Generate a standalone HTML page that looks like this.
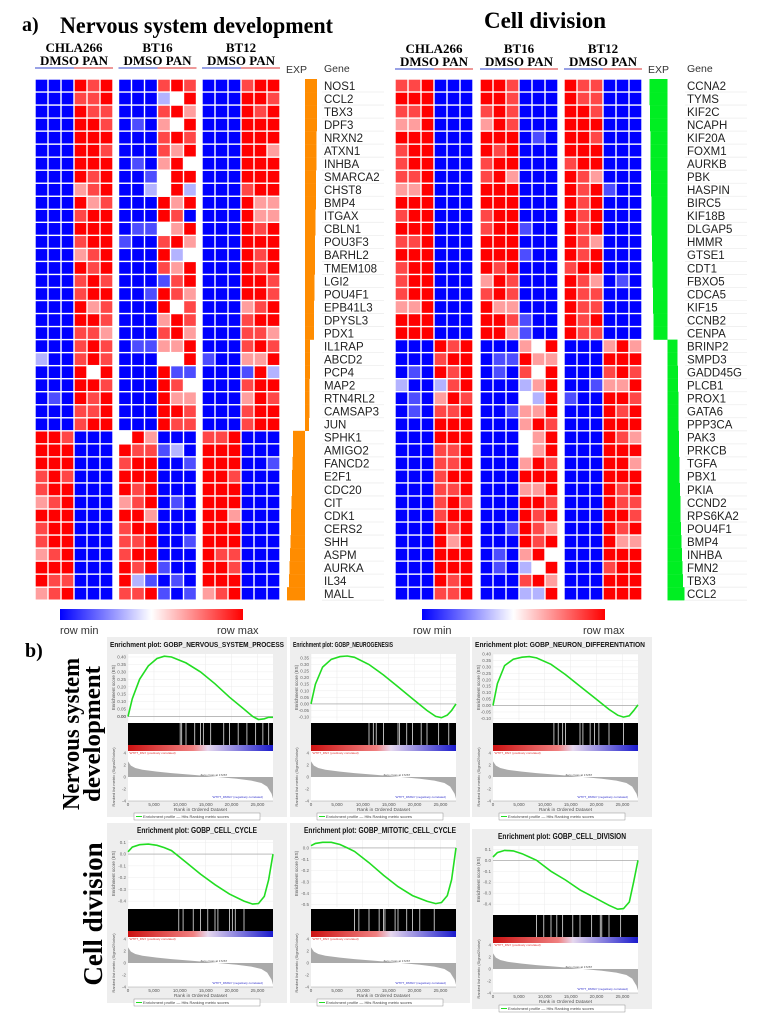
<!DOCTYPE html>
<html><head><meta charset="utf-8">
<style>
html,body{margin:0;padding:0;background:#fff;}
svg{display:block;}
.serif{font-family:"Liberation Serif",serif;font-weight:bold;}
.sans{font-family:"Liberation Sans",sans-serif;}
</style></head>
<body>
<svg id="fig" width="768" height="1019" viewBox="0 0 768 1019" xmlns="http://www.w3.org/2000/svg">
<rect width="768" height="1019" fill="#fff"/>
<text class="serif" x="22" y="31" font-size="20" font-weight="normal">a)</text>
<text class="serif" x="60" y="33" font-size="23" textLength="273" lengthAdjust="spacingAndGlyphs">Nervous system development</text>
<text class="serif" x="545" y="28" font-size="23" text-anchor="middle">Cell division</text>
<text class="serif" x="25" y="657" font-size="20" font-weight="normal">b)</text>
<g>
<text class="serif" x="-734" y="79" font-size="24" text-anchor="middle" transform="rotate(-90)" textLength="152" lengthAdjust="spacingAndGlyphs">Nervous system</text>
<text class="serif" x="-734" y="100" font-size="24" text-anchor="middle" transform="rotate(-90)" textLength="136" lengthAdjust="spacingAndGlyphs">development</text>
</g>
<text class="serif" x="-914" y="102" font-size="27" text-anchor="middle" transform="rotate(-90)">Cell division</text>
<g id="heat"></g>
<g id="gsea"></g>
</svg>
<script>
// ---------- heatmap data ----------
const codeVals = {B:-1,b:-0.7,l:-0.3,w:0,p:0.38,r:0.72,R:1};
const leftGenes = ["NOS1","CCL2","TBX3","DPF3","NRXN2","ATXN1","INHBA","SMARCA2","CHST8","BMP4","ITGAX","CBLN1","POU3F3","BARHL2","TMEM108","LGI2","POU4F1","EPB41L3","DPYSL3","PDX1","IL1RAP","ABCD2","PCP4","MAP2","RTN4RL2","CAMSAP3","JUN","SPHK1","AMIGO2","FANCD2","E2F1","CDC20","CIT","CDK1","CERS2","SHH","ASPM","AURKA","IL34","MALL"];
const leftCells = ["BBBRrRBBBrRrBBBrRR","BBBrrRBBBlwRBBBRRr","BBBRrrBBBrRpBBBRrR","BBBRRrBbBpwRBBBRRR","BBBRRRBBBrRrBBBRRR","BBBRRrBBBrpRBBBRRp","BBBRRRBbBpRwBBBRRR","BBBRrRBBbwRRBBBRRR","BBBprRBBlwRlBBBrRR","BBBRprBBBRpRBBBRpp","BBBrRRBBBRrBBBBRpp","BBBRRRBbbwpRBBBRrR","BBBrRRbBBrRpBBBRRR","BBBprRBBBRlwBBBRrR","BBBRrRBBBrpRBBBRrR","BBBrRrBBBbrRBBBRRr","BBBrRRBBbRrpBBBRRr","BBBRprBBBRwrBBBprR","BBBRRrBBBpRrBBBrRR","BBBrrpBBBrRpBBBrrp","BBBrRrBbbppRBBBrRr","lBBrRrBBBwwRbBBppR","BBBRwRBBBRbbBBBbRl","BBBRRrBBBRrwBBBrRR","BbBRrRBBBRppBBBpRr","BBBrrRBBBRRrBBBrRR","BBBrRRBBBRrrBBBrRR","RRrBBBwRpBBBrrRBBB","RRRBBBRrrblBRRRBBB","RRRBBBrRRBBbRRRBBb","rRrBBBRRRBBBRRrBBB","rRRBBBRrRBBBRRRBBB","prRBBBprRBbBRRRBBB","RRRBBBRRpBBBRRpBBB","rRRBBBrRRBBBRRRBBB","rRRBBBrrRBBbRRRBBB","prRBBBrRRBBBRrrBBB","RRRBBBRrRbBBRRrBBB","RrrBBBRlbBbBRRRBBB","prRBBBrrRbBbprRBBB"];
const leftExp = [12,12,12,12,11.5,11.5,11.5,11,11,11,10.5,10.5,10,10,10,9.5,9.5,9,9,9,5,5,5,4.5,4.5,4.5,4,-12,-12,-12.5,-13,-13,-13.5,-14,-14,-14.5,-15,-15.5,-16,-18];
const rightGenes = ["CCNA2","TYMS","KIF2C","NCAPH","KIF20A","FOXM1","AURKB","PBK","HASPIN","BIRC5","KIF18B","DLGAP5","HMMR","GTSE1","CDT1","FBXO5","CDCA5","KIF15","CCNB2","CENPA","BRINP2","SMPD3","GADD45G","PLCB1","PROX1","GATA6","PPP3CA","PAK3","PRKCB","TGFA","PBX1","PKIA","CCND2","RPS6KA2","POU4F1","BMP4","INHBA","FMN2","TBX3","CCL2"];
const rightCells = ["rrRBBBRRrBBBRrrBBB","RRRBBBRRrBBBRrrBBB","rrRBBBrRrBBBRRrBBB","ppRBBBpRrBBBRRRBBB","RRRBBBRRRBbBRRrBBB","rRRBBBRrRBBBRRRBBB","rRRBBBrRRBBBrRRBBB","rrRBBBrRpBBBRrpBBB","ppRBBBRRRBBBRrRbBB","RRRBBBRRRBBBRrRBBB","rRRBBBrRRBBBRrRBBB","RRRBBBrRRbBBRrRBBB","rrRBBBRRRBBBRrpBBB","RRRBBBRRRbBBRrRBBB","rRRBBBRrRBBBrRRBBB","rRRBBBpRrBBBRrpBbB","rRRBBBrRrBBBRrrBBB","ppRBBBRppBBBRrrBBB","RRRBBBRRrbBBRrRBBB","RRRBBBRRpbBBRrrBBB","BBBRrRBBBpwRBBBpRp","BBBrRRBbbRppBBBRRR","BbBRrRBbBrwRBBBrRr","lBBlrRBBBlpRBBbppR","BbBpRrBBBwlRbBBRRr","BbBrrRBBbppRBBBRrR","BBBRRRBBBpRrBBBRRR","BBBRRRBBBwpRBBBRrp","BBBrrRBBBwpRBBBRRR","BBBrrRBBBpRrBBBRRp","BBBrRRBBBRRRBBBRRR","BBBrrRBBBppRBBBRrR","BBBrRrBBBRRrBBBRrr","BBBrRRBBBRrRBBBRRr","BBBRrRBBbRrpBBBRrR","BBBRpRBBBRrRBBBRpp","BBBRRRBbBpRwBBBRRR","BBBRRRBbBlwRBBBrRR","BBBRrRBBBrRpBBBRRR","BBBrrRBBBllRBBBRRR"];
const rightExp = [-18,-18,-17.5,-17.5,-17,-17,-17,-16.5,-16.5,-16,-16,-16,-15.5,-15.5,-15,-15,-14.5,-14.5,-14,-14,10,10,10.5,10.5,11,11,11,11.5,11.5,12,12,12.5,13,13,13.5,14,14.5,15,15.5,17];
const cellLines = ["CHLA266","BT16","BT12"];

const NS="http://www.w3.org/2000/svg";
function el(tag, attrs, parent){const e=document.createElementNS(NS,tag);for(const k in attrs)e.setAttribute(k,attrs[k]);if(parent)parent.appendChild(e);return e;}
function heatColor(v){
  if(v<0){const t=-v;const c=Math.round(255*(1-t));return `rgb(${c},${c},255)`;}
  const t=v;const c=Math.round(255*(1-t));return `rgb(255,${c},${c})`;
}
const heat=document.getElementById('heat');
const rowTop=79, rowH=13.03;
function rowY(i){return rowTop+i*rowH;}

function drawHeatmap(name, blocksX, cells, genes, exp, expColor, expAnchor, geneX, expLabelX, hdrY, ulY){
  const g=el('g',{},heat);
  
  
  const cw=13;
  blocksX.forEach((bx,bi)=>{
    const cx=bx+39;
    const t=el('text',{x:cx,y:hdrY,'font-size':13,'text-anchor':'middle',class:'serif'},g);
    t.textContent=cellLines[bi];
    
    
    const t2=el('text',{x:cx,y:hdrY+13,'font-size':13,'text-anchor':'middle',class:'serif'},g);
    t2.textContent='DMSO PAN';
    
    
    el('line',{x1:bx,x2:bx+39,y1:ulY,y2:ulY,stroke:'#3344cc','stroke-width':1},g);
    el('line',{x1:bx+39,x2:bx+78,y1:ulY,y2:ulY,stroke:'#dd3333','stroke-width':1},g);
  });
  const e1=el('text',{x:expLabelX,y:73,'font-size':10.5,class:'sans',fill:'#333'},g);e1.textContent='EXP';
  
  const e2=el('text',{x:geneX,y:72,'font-size':10.5,class:'sans',fill:'#333'},g);e2.textContent='Gene';
  
  cells.forEach((row,ri)=>{
    const y=rowY(ri);
    for(let ci=0;ci<18;ci++){
      const b=Math.floor(ci/6), k=ci%6;
      const x=blocksX[b]+k*cw;
      const r=el('rect',{x:x+0.7,y:y+0.7,width:cw-1.4,height:rowH-1.4,fill:heatColor(codeVals[row[ci]])},g);
      
      
    }
    el('line',{x1:geneX-2,x2:geneX+60,y1:y+rowH,y2:y+rowH,stroke:'#eeeeee','stroke-width':0.8},g);
    const gt=el('text',{x:geneX,y:y+rowH-2.2,'font-size':11.5,class:'sans',fill:'#222'},g);
    gt.textContent=genes[ri];
    
    
    const v=exp[ri];
    const bx = v>=0 ? expAnchor : expAnchor+v;
    const bar=el('rect',{x:bx,y:y,width:Math.abs(v),height:rowH+0.2,fill:expColor},g);
    
    
  });
}
drawHeatmap('nervous-heatmap',[35,118.5,202],leftCells,leftGenes,leftExp,'#ff8c00',305,324,286,52,68);
drawHeatmap('cell-division-heatmap',[395,480,564],rightCells,rightGenes,rightExp,'#00ee22',667.5,687,648,53,69);

const defs=el('defs',{},document.getElementById('fig'));
const lg=el('linearGradient',{id:'rowgrad',x1:0,x2:1,y1:0,y2:0},defs);
el('stop',{offset:'0','stop-color':'#0000ff'},lg);
el('stop',{offset:'0.5','stop-color':'#ffffff'},lg);
el('stop',{offset:'1','stop-color':'#ff0000'},lg);
const eg=el('linearGradient',{id:'esgrad',x1:0,x2:1,y1:0,y2:0},defs);
el('stop',{offset:'0','stop-color':'#cc1111'},eg);
el('stop',{offset:'0.45','stop-color':'#f08080'},eg);
el('stop',{offset:'0.55','stop-color':'#e6d8ee'},eg);
el('stop',{offset:'1','stop-color':'#1a1acc'},eg);
[[60,60,217],[422,413,583]].forEach(([x,tx,mx],i)=>{
  const cb=el('rect',{x:x,y:609,width:183,height:11,fill:'url(#rowgrad)'},heat);
  
  
  const a=el('text',{x:tx,y:634,'font-size':11,class:'sans',fill:'#333'},heat);a.textContent='row  min';
  
  const b=el('text',{x:mx,y:634,'font-size':11,class:'sans',fill:'#333'},heat);b.textContent='row  max';
  
});

// ---------- GSEA data ----------
const gseaTitles=["Enrichment plot: GOBP_NERVOUS_SYSTEM_PROCESS","Enrichment plot: GOBP_NEUROGENESIS","Enrichment plot: GOBP_NEURON_DIFFERENTIATION","Enrichment plot: GOBP_CELL_CYCLE","Enrichment plot: GOBP_MITOTIC_CELL_CYCLE","Enrichment plot: GOBP_CELL_DIVISION"];
const titleLens=[174,100,170,120,152,128];
const esRank=[0,0.03,0.08,0.14,0.2,0.25,0.3,0.4,0.5,0.6,0.7,0.8,0.86,0.9,0.94,0.97,1];
const es1=[0,0.12,0.25,0.34,0.39,0.405,0.4,0.36,0.3,0.22,0.13,0.05,0.0,-0.02,-0.015,-0.005,-0.005];
const es2=[0,0.15,0.28,0.34,0.36,0.365,0.355,0.3,0.22,0.13,0.04,-0.05,-0.095,-0.105,-0.085,-0.05,0];
const es3=[0,0.17,0.31,0.36,0.375,0.38,0.37,0.32,0.24,0.15,0.06,-0.03,-0.075,-0.09,-0.08,-0.04,0.005];
const es4=[0.02,0.06,0.08,0.085,0.075,0.055,0.03,-0.07,-0.17,-0.26,-0.34,-0.4,-0.425,-0.42,-0.36,-0.22,0];
const es5=[0.02,0.04,0.05,0.05,0.03,0.0,-0.03,-0.13,-0.24,-0.34,-0.42,-0.47,-0.49,-0.48,-0.42,-0.28,0];
const es6=[0.03,0.07,0.09,0.085,0.06,0.03,0.0,-0.1,-0.18,-0.27,-0.34,-0.41,-0.445,-0.44,-0.38,-0.2,0];
const esMin=[-0.03,-0.13,-0.12,-0.45,-0.52,-0.48];
const esMax=[0.42,0.38,0.40,0.12,0.07,0.13];
const esTicks=[[0.4,0.35,0.3,0.25,0.2,0.15,0.1,0.05,0.0,-0.0],[0.35,0.3,0.25,0.2,0.15,0.1,0.05,0.0,-0.05,-0.1],[0.4,0.35,0.3,0.25,0.2,0.15,0.1,0.05,0.0,-0.05,-0.1],[0.1,0.0,-0.1,-0.2,-0.3,-0.4],[0.0,-0.1,-0.2,-0.3,-0.4,-0.5],[0.1,0.0,-0.1,-0.2,-0.3,-0.4]];
const gapRanks=[[0.36,0.37,0.4,0.46,0.5,0.52,0.57,0.66,0.7,0.76,0.82,0.88,0.93,0.97],[0.4,0.43,0.45,0.5,0.6,0.61,0.66,0.7,0.76,0.8,0.88,0.95],[0.42,0.45,0.48,0.5,0.6,0.62,0.67,0.7,0.73,0.8,0.9],[0.35,0.38,0.45,0.5,0.55,0.6,0.62,0.7,0.72,0.74,0.8],[0.3,0.33,0.4,0.47,0.5,0.51,0.58,0.6,0.66,0.7,0.75,0.85],[0.3,0.35,0.4,0.44,0.48,0.55,0.6,0.68,0.74,0.75,0.8,0.88]];
const metricRank=[0,0.02,0.05,0.1,0.2,0.3,0.45,0.6,0.75,0.85,0.92,0.96,0.99,1];
const metricVal=[2.6,1.9,1.5,1.2,0.9,0.65,0.35,0.05,-0.3,-0.6,-1.0,-1.6,-2.8,-3.6];
const xTicks=["0","5,000","10,000","15,000","20,000","25,000"];
const xTickRanks=[0,0.179,0.357,0.536,0.714,0.893];
const panelPos=[[107,637],[290,637],[472,637],[107,823],[290,823],[472,829]];

const gsea=document.getElementById('gsea');
function drawPanel(i){
  const [px,py]=panelPos[i];
  const g=el('g',{},gsea);
  
  
  el('rect',{x:px,y:py,width:180,height:180,fill:'#eeeeee'},g);
  const tt=el('text',{x:px+(i<3?3:90),y:py+10,'font-size':i<3?7:8,'font-weight':'bold',class:'sans','text-anchor':i<3?'start':'middle',fill:'#111',textLength:titleLens[i],lengthAdjust:'spacingAndGlyphs'},g);
  tt.textContent=gseaTitles[i];
  
  
  const L=px+21, R=px+166, W=R-L;
  const esT=py+17, esB=py+84;
  const hitT=py+86, hitB=py+108, grB=py+114;
  const mT=py+116, mB=py+164;
  el('rect',{x:L,y:esT,width:W,height:mB-esT,fill:'#fff'},g);
  const xs=r=>L+r*W;
  const ys=v=>esB-(v-esMin[i])/(esMax[i]-esMin[i])*(esB-esT);
  xTickRanks.forEach(r=>el('line',{x1:xs(r),x2:xs(r),y1:esT,y2:esB,stroke:'#e4e4e4','stroke-width':0.4},g));
  esTicks[i].forEach(t=>{
    el('line',{x1:L,x2:R,y1:ys(t),y2:ys(t),stroke:'#e8e8e8','stroke-width':0.4},g);
    const lt=el('text',{x:L-2,y:ys(t)+1.5,'font-size':4.5,class:'sans','text-anchor':'end',fill:'#666'},g);
    lt.textContent=t.toFixed(i<3?2:1);
  });
  el('line',{x1:L,x2:R,y1:ys(0),y2:ys(0),stroke:'#999','stroke-width':0.6},g);
  const yl=el('text',{x:0,y:0,'font-size':4.5,class:'sans','text-anchor':'middle',fill:'#555',transform:`translate(${px+8},${(esT+esB)/2}) rotate(-90)`},g);
  yl.textContent='Enrichment score (ES)';
  const pts=esRank.map((r,k)=>xs(r).toFixed(1)+','+ys([es1,es2,es3,es4,es5,es6][i][k]).toFixed(1)).join(' ');
  const pl=el('polyline',{points:pts,fill:'none',stroke:'#22dd22','stroke-width':1.6},g);
  
  
  const hb=el('rect',{x:L,y:hitT,width:W,height:hitB-hitT,fill:'#000'},g);
  
  
  gapRanks[i].forEach(r=>{
    const gl=el('line',{x1:xs(r),x2:xs(r),y1:hitT,y2:hitB,stroke:'#ccc','stroke-width':0.9},g);
    
    
  });
  el('rect',{x:L,y:hitB,width:W,height:grB-hitB,fill:'url(#esgrad)'},g);
  const rl=el('text',{x:L+1,y:grB+3,'font-size':3,class:'sans',fill:'#d33'},g);rl.textContent="'WTPT_PAN' (positively correlated)";
  const my=v=>(mT+mB)/2 - v/4*((mB-mT)/2);
  [4,2,0,-2,-4].forEach(t=>{
    const lt=el('text',{x:L-2,y:my(t)+1.5,'font-size':4.5,class:'sans','text-anchor':'end',fill:'#666'},g);lt.textContent=t;
  });
  let ap=`M${xs(0)},${my(0)} `+metricRank.map((r,k)=>`L${xs(r).toFixed(1)},${my(metricVal[k]).toFixed(1)}`).join(' ')+` L${xs(1)},${my(0)} Z`;
  const ar=el('path',{d:ap,fill:'#aaaaaa'},g);
  
  
  const zc=el('text',{x:xs(0.5),y:my(0)-1,'font-size':3,class:'sans',fill:'#444'},g);zc.textContent='Zero cross at 17267';
  const bl=el('text',{x:xs(0.58),y:mB-3,'font-size':3,class:'sans',fill:'#33c'},g);bl.textContent="'WTPT_DMSO' (negatively correlated)";
  const ml=el('text',{x:0,y:0,'font-size':4,class:'sans','text-anchor':'middle',fill:'#555',transform:`translate(${px+8},${(mT+mB)/2}) rotate(-90)`},g);
  ml.textContent='Ranked list metric (Signal2Noise)';
  el('line',{x1:L,x2:R,y1:mB,y2:mB,stroke:'#888','stroke-width':0.4},g);
  xTicks.forEach((t,k)=>{
    const lt=el('text',{x:xs(xTickRanks[k]),y:mB+5,'font-size':4.5,class:'sans','text-anchor':'middle',fill:'#555'},g);lt.textContent=t;
  });
  const xl=el('text',{x:(L+R)/2,y:mB+10,'font-size':4.8,class:'sans','text-anchor':'middle',fill:'#555'},g);xl.textContent='Rank in Ordered Dataset';
  const lgG=el('g',{},g);
  
  
  el('rect',{x:L+6,y:mB+12,width:126,height:7,fill:'#fff',stroke:'#777','stroke-width':0.4},lgG);
  el('line',{x1:L+8,x2:L+14,y1:mB+15.5,y2:mB+15.5,stroke:'#22dd22','stroke-width':1},lgG);
  const t1=el('text',{x:L+15,y:mB+17,'font-size':4,class:'sans',fill:'#444'},lgG);t1.textContent='Enrichment profile   — Hits          Ranking metric scores';
}
for(let i=0;i<6;i++)drawPanel(i);
</script>
</body></html>
